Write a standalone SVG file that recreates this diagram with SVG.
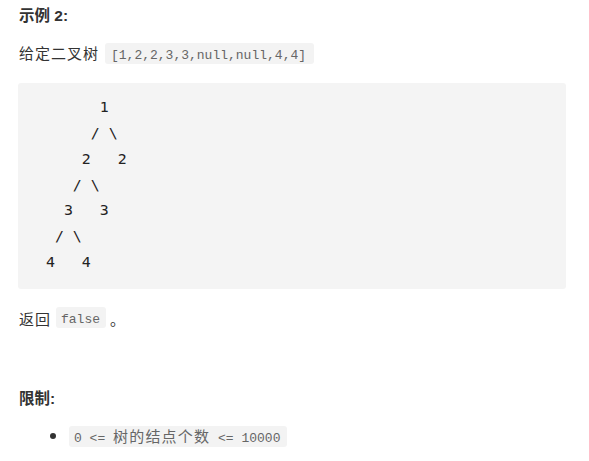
<svg xmlns="http://www.w3.org/2000/svg" width="589" height="461" viewBox="0 0 589 461">
<style>
.t{font-family:"Liberation Sans","Noto Sans CJK SC",sans-serif;font-size:15px;fill:#333;letter-spacing:1px}
.b{font-weight:bold;letter-spacing:0;font-size:15.5px}
.c{font-family:"Liberation Mono","Noto Sans CJK SC",monospace;font-size:13px;fill:#666;white-space:pre}
.k{font-family:"Noto Sans CJK SC",sans-serif;font-size:15px;letter-spacing:1.2px}
.cb{fill:#f3f3f3}
.p{font-family:"DejaVu Sans Mono",monospace;font-size:14.9px;fill:#222;white-space:pre}
</style>
<rect width="589" height="461" fill="#ffffff"/>
<g id="title">
<text class="t b" x="19" y="21">示例 2:</text>
</g>
<g id="given">
<text class="t" x="19" y="59">给定二叉树</text>
<rect class="cb" x="105" y="43" width="209" height="21" rx="3"/>
<text class="c" x="111" y="59">[1,2,2,3,3,null,null,4,4]</text>
</g>
<g id="tree">
<rect x="18" y="83" width="548" height="206" rx="3" fill="#f4f4f4"/>
<text class="p" x="37" y="112">       1</text>
<text class="p" x="37" y="138">      / \</text>
<text class="p" x="37" y="164">     2   2</text>
<text class="p" x="37" y="190">    / \</text>
<text class="p" x="37" y="215">   3   3</text>
<text class="p" x="37" y="241">  / \</text>
<text class="p" x="37" y="267"> 4   4</text>
</g>
<g id="return">
<text class="t" x="19" y="325">返回</text>
<rect class="cb" x="56" y="307" width="50" height="21" rx="3"/>
<text class="c" x="61" y="323">false</text>
<text class="t" x="110" y="325">。</text>
</g>
<g id="limit">
<text class="t b" x="19" y="404">限制:</text>
<circle cx="53" cy="436" r="3" fill="#333"/>
<rect class="cb" x="69" y="426" width="218" height="21" rx="3"/>
<text class="c" x="74" y="442">0 &lt;= <tspan class="k">树的结点个数</tspan> &lt;= 10000</text>
</g>
</svg>
